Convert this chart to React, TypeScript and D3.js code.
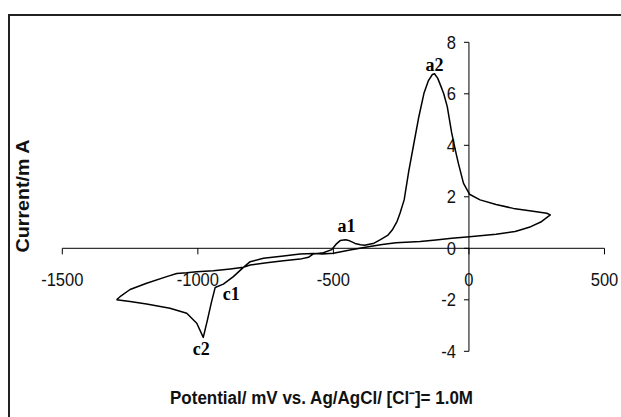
import React from 'react';
import { scaleLinear, line } from 'd3';

// anodic sweep, -1300 -> +300 mV (potential, current mA)
const anodicE = [-1300, -1287, -1250, -1189, -1115, -1078, -1041, -1004, -943, -880, -832, -807, -746, -684, -623, -592, -574, -537, -506, -490, -475, -455, -440, -420, -400, -385, -350, -328, -300, -283, -265, -254, -239, -222, -203, -185, -166, -150, -135, -127, -115, -100, -93, -80, -64, -50, -39, -20, 2, 41, 100, 164, 230, 287, 300];
const anodicI = [-2.0, -1.88, -1.6, -1.36, -1.1, -0.98, -0.95, -0.91, -0.87, -0.8, -0.74, -0.65, -0.56, -0.48, -0.42, -0.35, -0.22, -0.17, -0.05, 0.16, 0.3, 0.33, 0.29, 0.19, 0.14, 0.12, 0.2, 0.33, 0.5, 0.71, 1.05, 1.37, 1.88, 3.0, 4.08, 5.1, 6.02, 6.5, 6.75, 6.78, 6.6, 6.2, 6.0, 5.5, 4.5, 3.8, 3.3, 2.52, 2.1, 1.88, 1.7, 1.55, 1.45, 1.36, 1.3];

// cathodic sweep, +300 -> -1300 mV
const cathodicE = [300, 265, 228, 189, 170, 100, 2, -63, -122, -180, -269, -320, -371, -439, -500, -540, -574, -623, -684, -758, -807, -832, -869, -906, -936, -950, -965, -980, -1004, -1041, -1103, -1189, -1250, -1300];
const cathodicI = [1.3, 1.02, 0.84, 0.71, 0.65, 0.55, 0.45, 0.39, 0.32, 0.26, 0.22, 0.15, 0.06, -0.07, -0.19, -0.22, -0.2, -0.22, -0.3, -0.39, -0.52, -0.74, -1.1, -1.39, -1.52, -2.1, -2.8, -3.46, -2.91, -2.52, -2.33, -2.16, -2.07, -2.0];

const xTicks = [-1500, -1000, -500, 0, 500];
const yTicks = [-4, -2, 0, 2, 4, 6, 8];

const peakLabels = [
  { text: 'a1', e: -455, i: 0.33 },
  { text: 'a2', e: -127, i: 6.78 },
  { text: 'c1', e: -936, i: -1.52 },
  { text: 'c2', e: -980, i: -3.46 },
];

const W = 621;
const H = 417;

export default function App() {
  const x = scaleLinear().domain([-1500, 500]).range([62.3, 604.5]);
  const y = scaleLinear().domain([-4, 8]).range([351.3, 42.3]);

  const pts: [number, number][] = [
    ...anodicE.map((e, k) => [e, anodicI[k]] as [number, number]),
    ...cathodicE.slice(1).map((e, k) => [e, cathodicI[k + 1]] as [number, number]),
  ];
  const path = line<[number, number]>()
    .x(d => x(d[0]))
    .y(d => y(d[1]))(pts) || '';

  const x0 = x(0);
  const y0 = y(0);
  const sans = '"Liberation Sans", Arial, sans-serif';
  const serif = '"Liberation Serif", "Times New Roman", serif';

  // label offsets relative to the peak they mark
  const labelOffset: Record<string, [number, number]> = {
    a1: [1, -8],
    a2: [0, -3],
    c1: [16, 13],
    c2: [-2, 18],
  };

  return (
    <svg width={W} height={H} style={{ position: 'absolute', left: 0, top: 0, background: '#fff' }}>
      <rect x={9} y={15} width={700} height={500} fill="#fff" stroke="#222" strokeWidth={2} />

      {/* axes */}
      <line x1={x(-1500)} x2={x(500)} y1={y0} y2={y0} stroke="#000" strokeWidth={1} />
      <line x1={x0} x2={x0} y1={y(-4)} y2={y(8)} stroke="#000" strokeWidth={1} />

      {xTicks.map(t => (
        <g key={'x' + t}>
          <line x1={x(t)} x2={x(t)} y1={y0} y2={y0 + 6} stroke="#000" strokeWidth={1} />
          <text
            transform={`translate(${x(t)},${y0 + 38}) scale(0.92,1)`}
            textAnchor="middle"
            fontFamily={sans}
            fontSize={18}
            fill="#111"
          >
            {t}
          </text>
        </g>
      ))}

      {yTicks.map(t => (
        <g key={'y' + t}>
          <line x1={x0 - 5} x2={x0} y1={y(t)} y2={y(t)} stroke="#000" strokeWidth={1} />
          <text
            transform={`translate(${x0 - 13},${y(t) + 6.5}) scale(0.92,1)`}
            textAnchor="end"
            fontFamily={sans}
            fontSize={18}
            fill="#111"
          >
            {t}
          </text>
        </g>
      ))}

      <path d={path} fill="none" stroke="#000" strokeWidth={1.5} strokeLinejoin="round" />

      {peakLabels.map(p => (
        <text
          key={p.text}
          x={x(p.e) + labelOffset[p.text][0]}
          y={y(p.i) + labelOffset[p.text][1]}
          textAnchor="middle"
          fontFamily={serif}
          fontWeight="bold"
          fontSize={18}
          fill="#000"
        >
          {p.text}
        </text>
      ))}

      <text
        transform="translate(29,196) rotate(-90)"
        textAnchor="middle"
        fontFamily={sans}
        fontWeight="bold"
        fontSize={18}
        textLength={113}
        lengthAdjust="spacingAndGlyphs"
        fill="#111"
      >
        Current/m A
      </text>

      <text
        x={170}
        y={404}
        fontFamily={sans}
        fontSize={18}
        fontWeight="bold"
        textLength={303}
        lengthAdjust="spacingAndGlyphs"
        fill="#111"
      >
        Potential/ mV vs. Ag/AgCl/ [Cl⁻]= 1.0M
      </text>
    </svg>
  );
}
